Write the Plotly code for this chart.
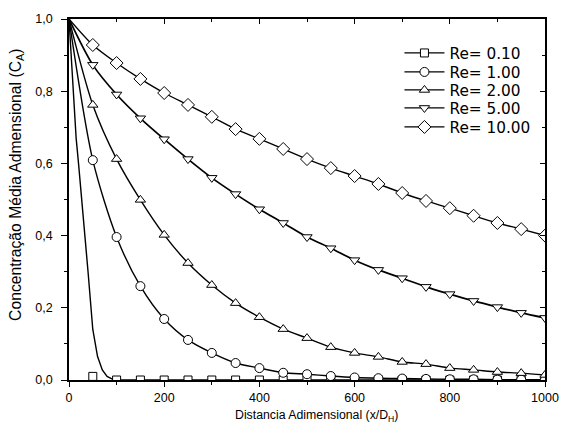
import plotly.graph_objects as go

# ---------------- data ----------------
x_markers = [50, 100, 150, 200, 250, 300, 350, 400, 450, 500,
             550, 600, 650, 700, 750, 800, 850, 900, 950, 1000]

labels = ["Re= 0.10", "Re= 1.00", "Re= 2.00", "Re= 5.00", "Re= 10.00"]

re010_markers = [0.010, 0, 0, 0, 0, 0, 0, 0, 0, 0,
                 0, 0, 0, 0, 0, 0, 0, 0, 0, 0]
re100_markers = [0.609, 0.396, 0.260, 0.169, 0.111, 0.075, 0.047, 0.033, 0.020, 0.016,
                 0.011, 0.007, 0.005, 0.004, 0.003, 0.002, 0.002, 0.001, 0.001, 0.001]
re200_markers = [0.762, 0.612, 0.499, 0.402, 0.324, 0.263, 0.213, 0.174, 0.141, 0.116,
                 0.091, 0.075, 0.064, 0.050, 0.044, 0.033, 0.028, 0.022, 0.019, 0.014]
re500_markers = [0.873, 0.791, 0.725, 0.667, 0.612, 0.560, 0.515, 0.473, 0.435, 0.396,
                 0.365, 0.332, 0.305, 0.282, 0.258, 0.238, 0.219, 0.202, 0.186, 0.172]
re1000_markers = [0.928, 0.878, 0.834, 0.795, 0.762, 0.729, 0.695, 0.668, 0.640, 0.612,
                  0.587, 0.565, 0.543, 0.518, 0.496, 0.476, 0.455, 0.435, 0.418, 0.400]

# Re = 0.10 continuous curve
re010_line_x = [0, 5, 10, 15, 20, 30, 40, 50, 60, 70, 80, 90, 100, 1000]
re010_line_y = [1.0, 0.89, 0.78, 0.67, 0.60, 0.46, 0.30, 0.14, 0.065, 0.028, 0.010, 0.003, 0.0, 0.0]

start_x = 0
start_y = 1.0

x_ticks = [0, 200, 400, 600, 800, 1000]
y_ticks = [0.0, 0.2, 0.4, 0.6, 0.8, 1.0]

x_title = "Distancia Adimensional (x/D<sub>H</sub>)"
y_title = "Concentração Média Admensional (C<sub>A</sub>)"

# ---------------- figure ----------------
regular = "Liberation Sans, Arial, sans-serif"
wide = "DejaVu Sans, Verdana, sans-serif"

symbols = ["square", "circle", "triangle-up", "triangle-down", "diamond"]
marker_sets = [re010_markers, re100_markers, re200_markers, re500_markers, re1000_markers]
msizes = [8, 9, 9, 9, 10]
legend_ids = ["legend", "legend2", "legend3", "legend4", "legend5"]

fig = go.Figure()

for i, (lab, sym, my) in enumerate(zip(labels, symbols, marker_sets)):
    if i == 0:
        lx, ly, shape = re010_line_x, re010_line_y, "linear"
    else:
        lx, ly, shape = [start_x] + x_markers, [start_y] + my, "spline"
    fig.add_trace(go.Scatter(
        x=lx, y=ly, mode="lines",
        line=dict(color="black", width=1.4 if i != 3 else 1.7, shape=shape, smoothing=0.8),
        showlegend=False, hoverinfo="skip"))
    fig.add_trace(go.Scatter(
        x=x_markers, y=my, mode="markers",
        marker=dict(symbol=sym, size=msizes[i], color="white",
                    line=dict(color="black", width=1)),
        showlegend=False))
    fig.add_trace(go.Scatter(
        x=[None], y=[None], mode="lines+markers", name=lab, legend=legend_ids[i],
        line=dict(color="black", width=1.2),
        marker=dict(symbol=sym, size=msizes[i], color="white",
                    line=dict(color="black", width=1))))

# invisible trace to carry mirror axes
fig.add_trace(go.Scatter(x=[None], y=[None], xaxis="x2", yaxis="y2",
                         showlegend=False, hoverinfo="skip"))

# plot area in pixels
L, R, T, B = 69, 553, 19, 380

def px_x(p):
    return (p - L) / float(R - L)

def px_y(p):
    return (B - p) / float(B - T)

legend_centers = [53, 72, 90, 108, 127]
legend_layout = {}
for lid, yc in zip(legend_ids, legend_centers):
    legend_layout[lid] = dict(
        x=px_x(405), y=px_y(yc), xanchor="left", yanchor="middle",
        bgcolor="rgba(0,0,0,0)", borderwidth=0,
        font=dict(family=wide, size=15.3, color="black"),
        itemwidth=40)

fig.update_layout(
    width=571, height=437,
    margin=dict(l=L, r=571 - R, t=T, b=437 - B),
    paper_bgcolor="white", plot_bgcolor="white",
    separators=", ",
    showlegend=True,
    **legend_layout,
    xaxis=dict(range=[0, 1000], tickvals=x_ticks, tickformat="d",
               showgrid=False, zeroline=False,
               showline=True, linecolor="black", linewidth=1.5,
               ticks="outside", ticklen=5, tickwidth=1.2, tickcolor="black",
               minor=dict(dtick=100, ticks="outside", ticklen=3, tickwidth=1, tickcolor="black", showgrid=False),
               tickfont=dict(family=regular, size=12.5, color="black")),
    yaxis=dict(range=[0, 1], tickvals=y_ticks, tickformat=".1f",
               showgrid=False, zeroline=False,
               showline=True, linecolor="black", linewidth=1.5,
               ticks="outside", ticklen=6, tickwidth=1.2, tickcolor="black",
               ticklabelstandoff=6,
               minor=dict(dtick=0.1, ticks="outside", ticklen=3, tickwidth=1, tickcolor="black", showgrid=False),
               tickfont=dict(family=regular, size=12.5, color="black")),
    xaxis2=dict(range=[0, 1000], overlaying="x", side="top", anchor="y",
                tickvals=x_ticks, showticklabels=False, showgrid=False, zeroline=False,
                showline=True, linecolor="black", linewidth=1.5,
                ticks="inside", ticklen=5, tickwidth=1.2, tickcolor="black",
                minor=dict(dtick=100, ticks="inside", ticklen=3, tickwidth=1, tickcolor="black")),
    yaxis2=dict(range=[0, 1], overlaying="y", side="right", anchor="x",
                tickvals=y_ticks, showticklabels=False, showgrid=False, zeroline=False,
                showline=True, linecolor="black", linewidth=1.5,
                ticks="inside", ticklen=5, tickwidth=1.2, tickcolor="black",
                minor=dict(dtick=0.1, ticks="inside", ticklen=3, tickwidth=1, tickcolor="black")),
    annotations=[
        dict(text=x_title, xref="paper", yref="paper", x=px_x(321), y=px_y(416),
             xanchor="center", yanchor="middle", showarrow=False,
             font=dict(family=regular, size=12.3, color="black")),
        dict(text=y_title, xref="paper", yref="paper", x=px_x(15), y=px_y(185),
             xanchor="center", yanchor="middle", showarrow=False, textangle=-90,
             font=dict(family=regular, size=15.7, color="black")),
    ],
)

fig.write_html("out.html", config={"displayModeBar": False},
               post_script="document.body.style.margin='0';document.body.style.padding='0';")
